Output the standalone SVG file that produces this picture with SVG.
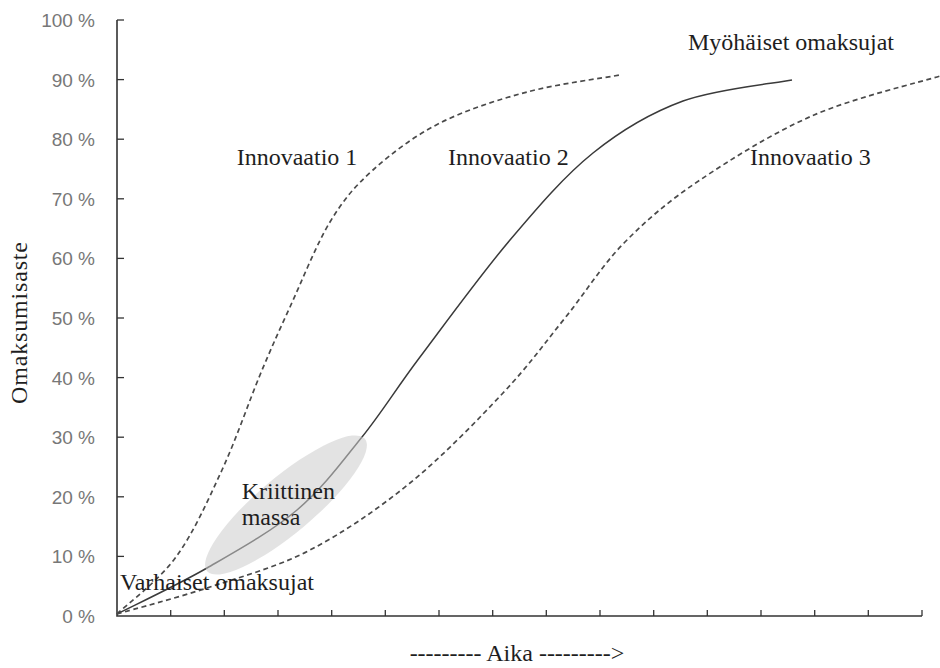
<svg xmlns="http://www.w3.org/2000/svg" width="940" height="668" viewBox="0 0 940 668">
  <style>
    .axis { stroke: #333; stroke-width: 1.6; fill: none; }
    .tick { stroke: #333; stroke-width: 1.3; }
    .ylab { font-family: "Liberation Sans", Arial, sans-serif; font-size: 19px; fill: #777; text-anchor: end; }
    .lbl { font-family: "Liberation Serif", "Times New Roman", serif; font-size: 24px; fill: #1e1e1e; }
    .curve { fill: none; stroke: #3a3a3a; stroke-width: 1.5; }
    .dashed { stroke-dasharray: 5 3.5; stroke: #4a4a4a; stroke-width: 1.7; }
  </style>
  <rect width="940" height="668" fill="#fff"/>

  <!-- Axes with ticks -->
  <g id="axes">
    <path class="axis" d="M117,20 V616 H922"/>
    <g class="tick">
      <line x1="117" y1="20" x2="124" y2="20"/>
      <line x1="117" y1="79.6" x2="124" y2="79.6"/>
      <line x1="117" y1="139.2" x2="124" y2="139.2"/>
      <line x1="117" y1="198.8" x2="124" y2="198.8"/>
      <line x1="117" y1="258.4" x2="124" y2="258.4"/>
      <line x1="117" y1="318" x2="124" y2="318"/>
      <line x1="117" y1="377.6" x2="124" y2="377.6"/>
      <line x1="117" y1="437.2" x2="124" y2="437.2"/>
      <line x1="117" y1="496.8" x2="124" y2="496.8"/>
      <line x1="117" y1="556.4" x2="124" y2="556.4"/>
      <line x1="170.7" y1="616" x2="170.7" y2="610"/>
      <line x1="224.3" y1="616" x2="224.3" y2="610"/>
      <line x1="278" y1="616" x2="278" y2="610"/>
      <line x1="331.7" y1="616" x2="331.7" y2="610"/>
      <line x1="385.3" y1="616" x2="385.3" y2="610"/>
      <line x1="439" y1="616" x2="439" y2="610"/>
      <line x1="492.7" y1="616" x2="492.7" y2="610"/>
      <line x1="546.3" y1="616" x2="546.3" y2="610"/>
      <line x1="600" y1="616" x2="600" y2="610"/>
      <line x1="653.7" y1="616" x2="653.7" y2="610"/>
      <line x1="707.3" y1="616" x2="707.3" y2="610"/>
      <line x1="761" y1="616" x2="761" y2="610"/>
      <line x1="814.7" y1="616" x2="814.7" y2="610"/>
      <line x1="868.3" y1="616" x2="868.3" y2="610"/>
      <line x1="922" y1="616" x2="922" y2="610"/>
    </g>
    <g class="ylab">
      <text x="95" y="27">100 %</text>
      <text x="95" y="86.6">90 %</text>
      <text x="95" y="146.2">80 %</text>
      <text x="95" y="205.8">70 %</text>
      <text x="95" y="265.4">60 %</text>
      <text x="95" y="325">50 %</text>
      <text x="95" y="384.6">40 %</text>
      <text x="95" y="444.2">30 %</text>
      <text x="95" y="503.8">20 %</text>
      <text x="95" y="563.4">10 %</text>
      <text x="95" y="623">0 %</text>
    </g>
    <text class="lbl" transform="translate(26.5,323) rotate(-90)" text-anchor="middle" textLength="162" lengthAdjust="spacing">Omaksumisaste</text>
    <text class="lbl" x="517" y="661" text-anchor="middle" font-size="22">--------- Aika ---------&gt;</text>
  </g>

  <!-- Adoption curves -->
  <g id="curves">
    <path id="innovaatio-1" class="curve dashed" d="M117,614 C126.8,604.5 158.5,581 176,557 C193.5,533 208,500.3 222,470 C236,439.7 248.7,402.2 260,375 C271.3,347.8 278.3,332.5 290,307 C301.7,281.5 316.2,244.8 330,222 C343.8,199.2 354.7,186.5 373,170 C391.3,153.5 414.3,136 440,123 C465.7,110 497,100 527,92 C557,84 604.5,77.8 620,75"/>
    <path id="innovaatio-2" class="curve" d="M117,614 C132,606.3 177,585.3 207,568 C237,550.7 271.2,531.8 297,510 C322.8,488.2 341.5,462.5 362,437 C382.5,411.5 395.3,389.8 420,357 C444.7,324.2 481.2,274 510,240 C538.8,206 564.2,176.2 593,153 C621.8,129.8 649.8,113.2 683,101 C716.2,88.8 773.8,83.5 792,80"/>
    <path id="innovaatio-3" class="curve dashed" d="M117,614 C132.5,609.5 177.8,597.7 210,587 C242.2,576.3 276.7,567.3 310,550 C343.3,532.7 377.8,509.2 410,483 C442.2,456.8 477.2,420.5 503,393 C528.8,365.5 544.8,343 565,318 C585.2,293 601.5,266 624,243 C646.5,220 668.3,201.3 700,180 C731.7,158.7 774,132.3 814,115 C854,97.7 919,82.5 940,76"/>
  </g>

  <!-- Critical mass zone -->
  <g id="critical-mass">
    <ellipse cx="286" cy="505" rx="103" ry="28" transform="rotate(-40 286 505)" fill="#cccccc" fill-opacity="0.55"/>
    <text class="lbl" x="241.7" y="499">Kriittinen</text>
    <text class="lbl" x="241.7" y="525">massa</text>
  </g>

  <!-- Curve and group labels -->
  <g id="labels">
    <text id="label-innovaatio-1" class="lbl" x="236.7" y="165">Innovaatio 1</text>
    <text id="label-innovaatio-2" class="lbl" x="448" y="165">Innovaatio 2</text>
    <text id="label-innovaatio-3" class="lbl" x="750" y="165">Innovaatio 3</text>
    <text id="label-myohaiset" class="lbl" x="688" y="49.5">Myöhäiset omaksujat</text>
    <text id="label-varhaiset" class="lbl" x="120" y="590">Varhaiset omaksujat</text>
  </g>
</svg>
